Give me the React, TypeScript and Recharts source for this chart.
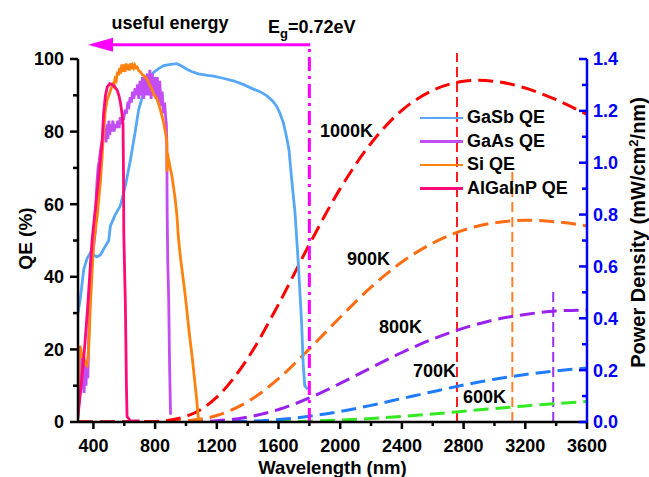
import React from 'react';
import { ComposedChart, Line, XAxis, YAxis, ReferenceLine, ReferenceDot } from 'recharts';

const FONT = '"Liberation Sans", Arial, Helvetica, sans-serif';

// measured QE curves: wavelength (nm) / QE (%)
const gasbWl = [300, 315, 337, 359, 380, 400, 423, 445, 477, 499, 510, 540, 574, 607, 639, 671, 693, 720, 747, 770, 790, 820, 855, 900, 941, 975, 1006, 1040, 1081, 1140, 1180, 1240, 1307, 1370, 1437, 1480, 1523, 1560, 1588, 1610, 1631, 1650, 1668, 1685, 1707, 1728, 1739, 1750, 1760, 1770, 1790];
const gasbQe = [30, 34, 42, 45, 46.6, 46, 45.5, 46, 48.4, 50, 54, 57, 59.5, 65, 72, 80, 86, 90, 93.6, 95.2, 96.3, 97.3, 98.2, 98.5, 98.7, 98, 97.2, 96.5, 95.9, 95.5, 95.3, 94.7, 94, 93, 91.7, 91, 89.9, 88.5, 87, 85, 82.5, 79, 75, 67, 57.7, 43.9, 35.6, 27, 16, 10, 9];

const gaasWl = [300, 303, 308, 313, 318, 323, 328, 334, 340, 346, 352, 358, 364, 370, 376, 382, 390, 398, 406, 413, 418, 423, 430, 438, 446, 455, 463, 470, 476, 482, 488, 494, 500, 506, 512, 518, 526, 534, 542, 550, 558, 566, 574, 582, 590, 598, 606, 614, 622, 630, 638, 646, 654, 662, 670, 678, 686, 694, 702, 710, 718, 726, 734, 742, 750, 758, 766, 774, 782, 790, 798, 806, 814, 822, 830, 838, 846, 854, 862, 868, 873, 876, 878, 882, 888, 894, 900];
const gaasQe = [1, 16, 5, 17, 8, 18, 9, 17, 8, 16, 10, 17, 12, 24, 35, 41, 44, 47, 50, 53, 62, 66, 70, 72, 75, 77, 79, 78, 81, 77, 82, 78, 83, 79, 82, 80, 83, 80, 82, 81, 83, 81, 84, 82, 84.5, 84, 86, 85, 87.5, 87, 89.5, 88, 91, 89, 92, 90, 93, 89, 94, 90, 95, 89, 95.5, 90, 96, 90, 97, 89, 96, 90, 95, 89, 95, 88, 94, 87, 91, 85, 88, 84, 82, 76, 58, 44, 34, 15, 2];

const siWl = [300, 305, 312, 318, 326, 337, 348, 359, 369, 380, 391, 402, 413, 425, 445, 456, 466, 478, 490, 500, 512, 524, 532, 540, 548, 556, 563, 570, 577, 584, 591, 598, 605, 612, 619, 626, 633, 640, 647, 654, 661, 668, 676, 684, 693, 704, 715, 730, 747, 763, 779, 795, 812, 833, 855, 870, 876, 877, 880, 887, 898, 909, 920, 930, 941, 952, 965, 980, 995, 1005, 1020, 1040, 1055, 1070, 1080, 1100];
const siQe = [9, 13, 21, 20, 18, 18, 16, 15.5, 20, 32, 41, 50, 53, 57, 66, 73, 80, 86, 89, 90, 91.5, 93, 92.5, 94.5, 94, 96.5, 95.5, 97.5, 96, 98.5, 96.5, 98.5, 96.5, 98.8, 97, 98.5, 96.8, 98.8, 97.2, 98.2, 97.5, 98.3, 97.6, 97.8, 96.8, 96.5, 95.8, 95.3, 94.5, 93, 91.7, 90, 89, 86.2, 82.5, 79, 77, 69, 74, 72.4, 70, 67.8, 64.5, 61.4, 57, 50.3, 45, 40, 35, 31, 25, 18, 12, 6, 1, 0.5];

const algaWl = [300, 320, 340, 360, 380, 391, 408, 423, 440, 456, 466, 478, 490, 507, 520, 535, 553, 565, 575, 585, 592, 595, 597, 603, 607, 611, 614, 618, 640, 700];
const algaQe = [1.5, 10, 19, 30, 43, 50, 57, 63, 70, 77, 85, 90, 92.3, 93.2, 93, 92.5, 91.5, 90, 88, 85, 82, 68, 52, 40, 33, 20, 10, 1.5, 0.3, 0.3];

// blackbody power density (mW/cm^2/nm)
const bbWl = [300, 600, 800, 1000, 1200, 1400, 1600, 1800, 2000, 2200, 2400, 2600, 2800, 2900, 3000, 3200, 3400, 3600];
const bb1000 = [0, 0, 0.0018, 0.0216, 0.0956, 0.245, 0.454, 0.685, 0.9, 1.075, 1.202, 1.279, 1.314, 1.318, 1.314, 1.288, 1.243, 1.186];
const bb900 = [0, 0, 0.0002, 0.0044, 0.0252, 0.0783, 0.167, 0.282, 0.404, 0.52, 0.617, 0.69, 0.74, 0.757, 0.768, 0.778, 0.772, 0.756];
const bb800 = [0, 0, 0, 0.0006, 0.0048, 0.0188, 0.048, 0.0928, 0.149, 0.209, 0.268, 0.32, 0.362, 0.379, 0.394, 0.415, 0.428, 0.432];
const bb700 = [0, 0, 0, 0, 0.0006, 0.003, 0.0095, 0.022, 0.0406, 0.0642, 0.0906, 0.117, 0.1425, 0.154, 0.165, 0.183, 0.1975, 0.208];
const bb600 = [0, 0, 0, 0, 0, 0.0003, 0.0011, 0.0032, 0.0073, 0.0134, 0.0215, 0.0311, 0.0415, 0.0468, 0.052, 0.0621, 0.0713, 0.0793];

// peak markers: wavelength, top (power density)
const peakWl = [2757, 3116, 3381];
const peakTop = [1.423, 0.97, 0.51];

const bandgapWl = 1800;

const xTicks = [400, 600, 800, 1000, 1200, 1400, 1600, 1800, 2000, 2200, 2400, 2600, 2800, 3000, 3200, 3400, 3600];
const qeTicks = [0, 10, 20, 30, 40, 50, 60, 70, 80, 90, 100];
const pdTicks = [0, 0.1, 0.2, 0.3, 0.4, 0.5, 0.6, 0.7, 0.8, 0.9, 1.0, 1.1, 1.2, 1.3, 1.4];

const zip = (xs: number[], ys: number[]) => xs.map((x, i) => ({ x, y: ys[i] }));

const qeSeries = [
  { name: 'GaSb QE', data: zip(gasbWl, gasbQe), color: '#56a8f7' },
  { name: 'GaAs QE', data: zip(gaasWl, gaasQe), color: '#c24df5' },
  { name: 'Si QE', data: zip(siWl, siQe), color: '#ff820f' },
  { name: 'AlGaInP QE', data: zip(algaWl, algaQe), color: '#ff0a78' },
];

const bbSeries = [
  { name: '600K', data: zip(bbWl, bb600), color: '#33ea22', lx: 2796, ly: 5.2 },
  { name: '700K', data: zip(bbWl, bb700), color: '#1f7cff', lx: 2472, ly: 12.4 },
  { name: '800K', data: zip(bbWl, bb800), color: '#9a22ee', lx: 2251, ly: 24.5 },
  { name: '900K', data: zip(bbWl, bb900), color: '#ff6c12', lx: 2044, ly: 43.3 },
  { name: '1000K', data: zip(bbWl, bb1000), color: '#ff0000', lx: 1869, ly: 78.5 },
];
const peakColors = ['#ff1a1a', '#ff7f27', '#9a30f0'];

const txt = { fontFamily: FONT, fontWeight: 700, fontSize: 18 };

const LeftTick = (props: any) => {
  const { x, y, payload } = props;
  const major = payload.value % 20 === 0;
  return (
    <g>
      <line x1={x - (major ? 8 : 5)} x2={x} y1={y} y2={y} stroke="#000" strokeWidth={2.5} />
      {major && (
        <text x={x - 14} y={y} dy="0.36em" textAnchor="end" fill="#000" style={txt}>
          {payload.value}
        </text>
      )}
    </g>
  );
};

const RightTick = (props: any) => {
  const { x, y, payload } = props;
  const major = Math.round(payload.value * 10) % 2 === 0;
  return (
    <g>
      <line x1={x - (major ? 8 : 5)} x2={x} y1={y} y2={y} stroke="#0000ff" strokeWidth={2.5} />
      {major && (
        <text x={x + 6} y={y} dy="0.36em" textAnchor="start" fill="#0000ff" style={txt}>
          {payload.value.toFixed(1)}
        </text>
      )}
    </g>
  );
};

const BottomTick = (props: any) => {
  const { x, y, payload } = props;
  const major = payload.value % 400 === 0;
  return (
    <g>
      <line x1={x} x2={x} y1={y} y2={y + (major ? 7 : 4)} stroke="#000" strokeWidth={2.5} />
      {major && (
        <text x={x} y={y + 30} textAnchor="middle" fill="#000" style={txt}>
          {payload.value}
        </text>
      )}
    </g>
  );
};

const XTitle = (p: any) => {
  const vb = p.viewBox;
  return (
    <text x={vb.x + vb.width / 2} y={vb.y + 52} textAnchor="middle" fill="#000" style={{ ...txt, fontSize: 18.5 }}>
      Wavelength (nm)
    </text>
  );
};

const LeftTitle = (p: any) => {
  const vb = p.viewBox;
  const cx = vb.x + 25;
  const cy = vb.y + vb.height / 2 - 2;
  return (
    <text x={cx} y={cy} dy="0.36em" textAnchor="middle" transform={`rotate(-90 ${cx} ${cy})`} fill="#000" style={{ ...txt, fontSize: 19 }}>
      QE (%)
    </text>
  );
};

const RightTitle = (p: any) => {
  const vb = p.viewBox;
  const cx = vb.x + 51;
  const cy = vb.y + vb.height / 2 - 8;
  return (
    <text x={cx} y={cy} dy="0.36em" textAnchor="middle" transform={`rotate(-90 ${cx} ${cy})`} fill="#000" style={{ ...txt, fontSize: 20 }}>
      Power Density (mW/cm<tspan fontSize={13} dy={-7}>2</tspan>
      <tspan dy={7}>/nm)</tspan>
    </text>
  );
};

export default function App() {
  return (
    <div style={{ position: 'absolute', left: 0, top: 0, width: 649, height: 477, background: '#fff' }}>
      <ComposedChart width={649} height={477} margin={{ top: 59, right: 0, bottom: 0, left: 0 }}>
        <XAxis
          type="number"
          dataKey="x"
          domain={[300, 3600]}
          allowDataOverflow
          ticks={xTicks}
          interval={0}
          height={55}
          tickSize={0}
          tickMargin={0}
          tick={BottomTick}
          axisLine={{ stroke: '#000', strokeWidth: 2.5 }}
          label={XTitle}
        />
        <YAxis
          yAxisId="left"
          type="number"
          domain={[0, 100]}
          allowDataOverflow
          ticks={qeTicks}
          interval={0}
          width={78}
          tickSize={0}
          tickMargin={0}
          tick={LeftTick}
          axisLine={{ stroke: '#000', strokeWidth: 2.5 }}
          label={LeftTitle}
        />
        <YAxis
          yAxisId="right"
          orientation="right"
          type="number"
          domain={[0, 1.4]}
          allowDataOverflow
          ticks={pdTicks}
          interval={0}
          width={62}
          tickSize={0}
          tickMargin={0}
          tick={RightTick}
          axisLine={{ stroke: '#0000ff', strokeWidth: 2.5 }}
          label={RightTitle}
        />

        {peakWl.map((w, i) => (
          <ReferenceLine
            key={'pk' + i}
            yAxisId="right"
            ifOverflow="visible"
            segment={[{ x: w, y: 0 }, { x: w, y: peakTop[i] }]}
            stroke={peakColors[i]}
            strokeWidth={2}
            strokeDasharray="10 5"
          />
        ))}

        {bbSeries.map((s) => (
          <Line
            key={s.name}
            yAxisId="right"
            data={s.data}
            dataKey="y"
            type="monotone"
            stroke={s.color}
            strokeWidth={3}
            strokeDasharray="15 7"
            dot={false}
            isAnimationActive={false}
          />
        ))}

        {qeSeries.map((s) => (
          <Line
            key={s.name}
            yAxisId="left"
            data={s.data}
            dataKey="y"
            type="linear"
            stroke={s.color}
            strokeWidth={2.8}
            dot={false}
            isAnimationActive={false}
          />
        ))}

        <ReferenceLine
          yAxisId="left"
          ifOverflow="visible"
          segment={[{ x: bandgapWl, y: 0 }, { x: bandgapWl, y: 103.9 }]}
          stroke="#ff00ff"
          strokeWidth={3}
          strokeDasharray="14 5 3 5"
        />
        <ReferenceLine
          yAxisId="left"
          ifOverflow="visible"
          segment={[{ x: bandgapWl + 6, y: 103.9 }, { x: 500, y: 103.9 }]}
          stroke="#ff00ff"
          strokeWidth={3}
        />
        <ReferenceDot
          yAxisId="left"
          x={365}
          y={103.9}
          ifOverflow="visible"
          shape={(p: any) => (
            <polygon points={`${p.cx},${p.cy} ${p.cx + 25},${p.cy - 7} ${p.cx + 25},${p.cy + 7}`} fill="#ff00ff" />
          )}
        />
        <ReferenceDot
          yAxisId="left"
          x={896}
          y={108.3}
          ifOverflow="visible"
          shape={(p: any) => (
            <text x={p.cx} y={p.cy} textAnchor="middle" fill="#000" style={txt}>useful energy</text>
          )}
        />
        <ReferenceDot
          yAxisId="left"
          x={1532}
          y={107.2}
          ifOverflow="visible"
          shape={(p: any) => (
            <text x={p.cx} y={p.cy} textAnchor="start" fill="#000" style={txt}>
              E<tspan fontSize={13} dy={5}>g</tspan>
              <tspan dy={-5}>=0.72eV</tspan>
            </text>
          )}
        />
        {bbSeries.map((s) => (
          <ReferenceDot
            key={'lb' + s.name}
            yAxisId="left"
            x={s.lx}
            y={s.ly}
            ifOverflow="visible"
            shape={(p: any) => (
              <text x={p.cx} y={p.cy} textAnchor="start" fill="#000" style={txt}>{s.name}</text>
            )}
          />
        ))}
      </ComposedChart>

      <div style={{ position: 'absolute', left: 420, top: 106, fontFamily: FONT, fontWeight: 700, fontSize: 18, color: '#000' }}>
        {qeSeries.map((s) => (
          <div key={s.name} style={{ display: 'flex', alignItems: 'center', height: 23.6, whiteSpace: 'nowrap' }}>
            <span style={{ display: 'inline-block', width: 43, height: 2.5, background: s.color, marginRight: 4 }} />
            <span>{s.name}</span>
          </div>
        ))}
      </div>
    </div>
  );
}
